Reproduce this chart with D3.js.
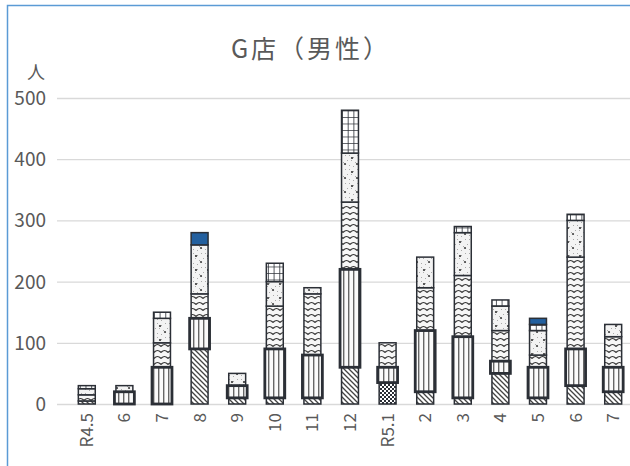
<!DOCTYPE html>
<html><head><meta charset="utf-8">
<script src="https://cdn.jsdelivr.net/npm/d3@7"></script>
<style>body{margin:0;background:#fff}svg{display:block}</style>
</head><body>
<script>
const categories = ["R4.5","6","7","8","9","10","11","12","R5.1","2","3","4","5","6","7"];
const sChecker = [0,0,0,0,0,0,0,0,35,0,0,0,0,0,0];
const sDiag    = [5,0,0,90,10,10,10,60,0,20,10,50,10,30,20];
const sVert    = [0,20,60,50,20,80,70,160,25,100,100,20,50,60,40];
const sWave    = [10,0,40,40,0,70,100,110,40,70,100,50,20,150,50];
const sDotted  = [10,10,40,80,20,40,10,80,0,50,70,40,40,60,20];
const sGrid    = [5,0,10,0,0,30,0,70,0,0,10,10,10,10,0];
const sBlue    = [0,0,0,20,0,0,0,0,0,0,0,0,10,0,0];
const yTicks = [0,100,200,300,400,500];
const title = "G店（男性）";
const yUnit = "人";

const W = 630, H = 466;
const svg = d3.select("body").append("svg").attr("width", W).attr("height", H);
const defs = svg.append("defs");
const ink = "#2b2f36";
const font = "'Noto Sans CJK JP', sans-serif";

function pat(id, w, h, draw, bg) {
  const p = defs.append("pattern").attr("id", id).attr("patternUnits", "userSpaceOnUse")
    .attr("width", w).attr("height", h);
  p.append("rect").attr("width", w).attr("height", h).attr("fill", bg || "#fff");
  draw(p);
}
pat("pChecker", 4, 4, p => {
  p.append("rect").attr("width", 2).attr("height", 2).attr("fill", ink);
  p.append("rect").attr("x", 2).attr("y", 2).attr("width", 2).attr("height", 2).attr("fill", ink);
});
pat("pDiag", 5, 5, p => {
  p.append("path").attr("d", "M-1,-1L6,6M-1,4L1,6M4,-1L6,1").attr("stroke", "#444").attr("stroke-width", 1.3);
});
pat("pVert", 5, 6, p => {
  p.append("rect").attr("x", 3).attr("width", 1.4).attr("height", 6).attr("fill", "#666");
}, "#fafafa");
pat("pWave", 7, 6, p => {
  p.append("path").attr("d", "M0,4.5Q3.5,0.5 7,4.5").attr("fill", "none").attr("stroke", "#333").attr("stroke-width", 1.2);
}, "#f7f7f7");
pat("pDotted", 12, 14, p => {
  [[1,1],[5,3],[9,1],[3,6],[7,8],[11,6],[1,11],[5,12],[9,10]].forEach(d =>
    p.append("rect").attr("x", d[0]).attr("y", d[1]).attr("width", 1).attr("height", 1).attr("fill", "#aaa"));
  p.append("circle").attr("cx", 4).attr("cy", 4).attr("r", 1.1).attr("fill", "#333");
  p.append("circle").attr("cx", 9).attr("cy", 10).attr("r", 1.1).attr("fill", "#444");
}, "#f3f3f3");
pat("pGrid", 5.7, 6.5, p => {
  p.append("path").attr("d", "M0,0H5.7M0,0V6.5").attr("stroke", ink).attr("stroke-width", 1.6);
});

const x = d3.scaleBand().domain(d3.range(categories.length)).range([68, 632]).paddingInner(0.55).paddingOuter(0.275);
const y = d3.scaleLinear().domain([0, 500]).range([404, 98]);

svg.append("path").attr("d", "M7.5,466V5.5H630").attr("fill", "none").attr("stroke", "#5b9bd5").attr("stroke-width", 1.5);

svg.append("text").attr("x", 311).attr("y", 58).attr("text-anchor", "middle")
  .attr("font-family", font).attr("font-size", 25).attr("letter-spacing", 3).attr("fill", "#595959").text(title);

const yAxis = d3.axisLeft(y).tickValues(yTicks).tickSize(-(632 - 57)).tickPadding(11);
const gy = svg.append("g").attr("transform", "translate(57,0)").call(yAxis);
gy.select(".domain").remove();
gy.selectAll(".tick line").attr("stroke", "#d9d9d9").attr("stroke-width", 1.3);
gy.selectAll(".tick text").attr("font-family", font).attr("font-size", 19).attr("fill", "#595959").attr("dy", "0.34em");
svg.append("text").attr("x", 36).attr("y", 79).attr("text-anchor", "middle")
  .attr("font-family", font).attr("font-size", 18).attr("fill", "#595959").text(yUnit);

const seriesList = [
  {v: sChecker, f: "url(#pChecker)"},
  {v: sDiag, f: "url(#pDiag)"},
  {v: sVert, f: "url(#pVert)", thick: true},
  {v: sWave, f: "url(#pWave)"},
  {v: sDotted, f: "url(#pDotted)"},
  {v: sGrid, f: "url(#pGrid)"},
  {v: sBlue, f: "#23609f"}
];
const rows = categories.map((c, i) => { const o = {i}; seriesList.forEach((s, k) => o["k" + k] = s.v[i]); return o; });
const stack = d3.stack().keys(seriesList.map((s, k) => "k" + k))(rows);
const bw = x.bandwidth();
const layers = stack.map((layer, k) => ({layer, s: seriesList[k]}));
const order = layers.filter(l => !l.s.thick).concat(layers.filter(l => l.s.thick));
order.forEach(({layer, s}) => {
  const ext = s.thick ? 1.5 : 0;
  svg.append("g").selectAll("rect").data(layer.filter(d => d[1] - d[0] > 0)).join("rect")
    .attr("x", d => x(d.data.i) - ext)
    .attr("width", bw + 2 * ext)
    .attr("y", d => y(d[1]))
    .attr("height", d => y(d[0]) - y(d[1]))
    .attr("fill", s.f)
    .attr("stroke", ink)
    .attr("stroke-width", s.thick ? 2.8 : 1.5);
});

const xAxis = d3.axisBottom(x).tickFormat(i => categories[i]).tickSize(0);
const gx = svg.append("g").attr("transform", "translate(0,404)").call(xAxis);
gx.select(".domain").remove();
gx.selectAll(".tick text").attr("font-family", font).attr("font-size", 17).attr("fill", "#595959")
  .attr("transform", "rotate(-90)").attr("text-anchor", "end").attr("x", -9).attr("y", 0).attr("dy", "0.35em");
</script>
</body></html>
